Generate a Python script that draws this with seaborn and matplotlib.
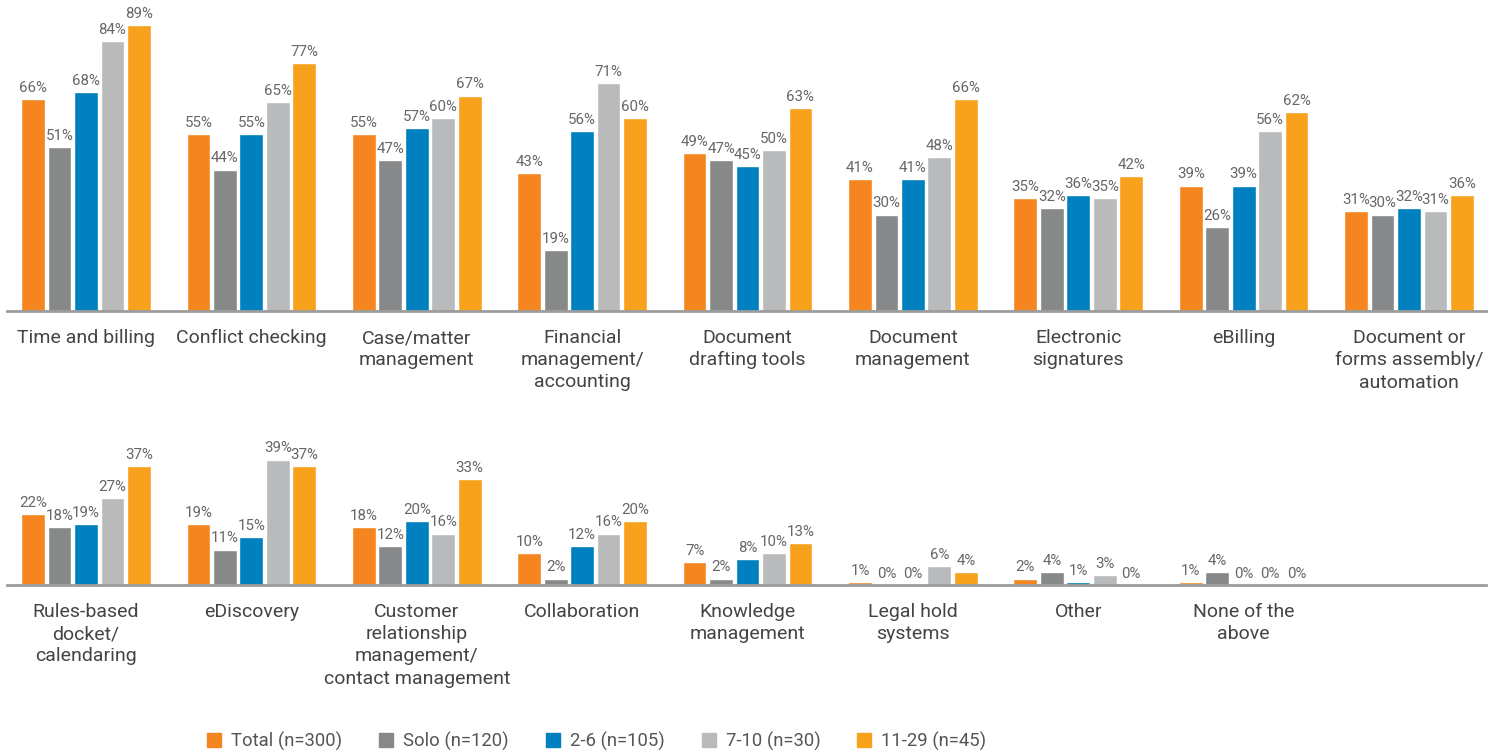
import numpy as np
import pandas as pd
import matplotlib.pyplot as plt
import matplotlib.patches as mpatches
import seaborn as sns

# --- data ---
groups = ["Total (n=300)", "Solo (n=120)", "2-6 (n=105)", "7-10 (n=30)", "11-29 (n=45)"]
colors = ["#F5861F", "#87888A", "#0080BE", "#B9BABC", "#F7A11C"]

top_labels = ["Time and billing", "Conflict checking", "Case/matter\nmanagement",
              "Financial\nmanagement/\naccounting", "Document\ndrafting tools",
              "Document\nmanagement", "Electronic\nsignatures", "eBilling",
              "Document or\nforms assembly/\nautomation"]
top_total = [66, 55, 55, 43, 49, 41, 35, 39, 31]
top_solo = [51, 44, 47, 19, 47, 30, 32, 26, 30]
top_2_6 = [68, 55, 57, 56, 45, 41, 36, 39, 32]
top_7_10 = [84, 65, 60, 71, 50, 48, 35, 56, 31]
top_11_29 = [89, 77, 67, 60, 63, 66, 42, 62, 36]

bot_labels = ["Rules-based\ndocket/\ncalendaring", "eDiscovery",
              "Customer\nrelationship\nmanagement/\ncontact management",
              "Collaboration", "Knowledge\nmanagement", "Legal hold\nsystems",
              "Other", "None of the\nabove"]
bot_total = [22, 19, 18, 10, 7, 1, 2, 1]
bot_solo = [18, 11, 12, 2, 2, 0, 4, 4]
bot_2_6 = [19, 15, 20, 12, 8, 0, 1, 0]
bot_7_10 = [27, 39, 16, 16, 10, 6, 3, 0]
bot_11_29 = [37, 37, 33, 20, 13, 4, 0, 0]


def long_df(labels, series):
    rows = []
    for g, vals in zip(groups, series):
        for c, v in zip(labels, vals):
            rows.append({"category": c, "group": g, "value": v})
    return pd.DataFrame(rows)


df_top = long_df(top_labels, [top_total, top_solo, top_2_6, top_7_10, top_11_29])
df_bot = long_df(bot_labels, [bot_total, bot_solo, bot_2_6, bot_7_10, bot_11_29])

sns.set_style("white")
plt.rcParams["font.family"] = ["Roboto", "DejaVu Sans"]

W, H = 1498, 753
fig = plt.figure(figsize=(W / 100, H / 100), dpi=100)

px = 3.215  # pixels per percentage point
left_px, right_px = 7, 1486
slot = 165.4
xlim = (-0.5 + (left_px - 3.3) / slot, 8.5 - (1491.7 - right_px) / slot)

ax_top = fig.add_axes([left_px / W, 1 - 311 / H, (right_px - left_px) / W, 311 / H])
ax_bot = fig.add_axes([left_px / W, 1 - 585 / H, (right_px - left_px) / W, 150 / H])

for ax, d, labels, top_y in [(ax_top, df_top, top_labels, 311), (ax_bot, df_bot, bot_labels, 150)]:
    sns.barplot(data=d, x="category", y="value", hue="group", order=labels,
                hue_order=groups, palette=colors, width=0.8, gap=0.1,
                legend=False, ax=ax, saturation=1)
    for cont in ax.containers:
        ax.bar_label(cont, labels=[f"{v:.0f}%" for v in cont.datavalues],
                     padding=3, fontsize=10.8, color="#666666")
    ax.set_xlim(*xlim)
    ax.set_ylim(0, top_y / px)
    ax.set_xlabel("")
    ax.set_ylabel("")
    ax.set_yticks([])
    ax.tick_params(axis="x", length=0, pad=13, labelsize=14, labelcolor="#444444")
    for lab in ax.get_xticklabels():
        lab.set_linespacing(1.3)
    for s in ["top", "right", "left"]:
        ax.spines[s].set_visible(False)
    ax.spines["bottom"].set_color("#9C9C9C")
    ax.spines["bottom"].set_linewidth(2)
    ax.patch.set_alpha(0)

handles = [mpatches.Patch(color=c, label=g) for c, g in zip(colors, groups)]
fig.legend(handles=handles, loc="center", bbox_to_anchor=(597 / W, 1 - 741 / H),
           ncol=5, frameon=False, fontsize=13.3, handlelength=0.75, handleheight=0.75,
           handletextpad=0.55, columnspacing=2.0, labelcolor="#555555")

fig.savefig("out.png", dpi=100)
